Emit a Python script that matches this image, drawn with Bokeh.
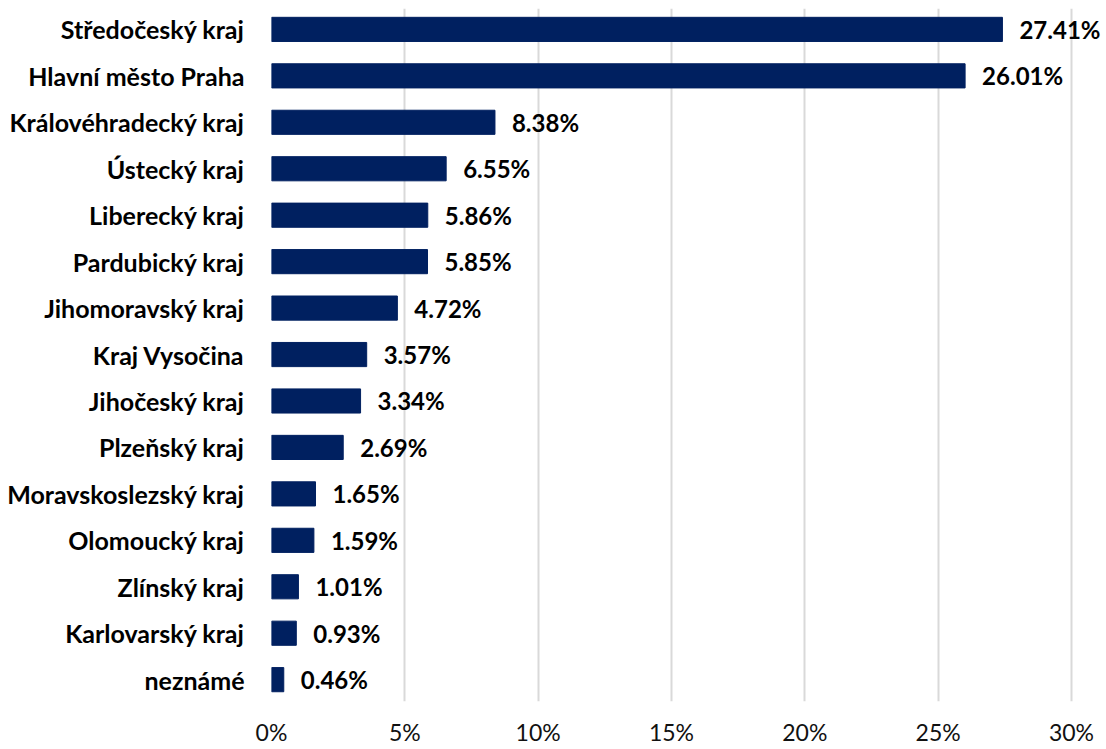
from bokeh.plotting import figure
from bokeh.models import Range1d, FixedTicker, ColumnDataSource, LabelSet
from bokeh.core.properties import value
from bokeh.embed import file_html
from bokeh.resources import INLINE

regions = ["Středočeský kraj", "Hlavní město Praha", "Královéhradecký kraj", "Ústecký kraj",
           "Liberecký kraj", "Pardubický kraj", "Jihomoravský kraj", "Kraj Vysočina",
           "Jihočeský kraj", "Plzeňský kraj", "Moravskoslezský kraj", "Olomoucký kraj",
           "Zlínský kraj", "Karlovarský kraj", "neznámé"]
shares = [27.41, 26.01, 8.38, 6.55, 5.86, 5.85, 4.72, 3.57, 3.34, 2.69, 1.65, 1.59, 1.01, 0.93, 0.46]
x_ticks = [0, 5, 10, 15, 20, 25, 30]
x_tick_labels = ["0%", "5%", "10%", "15%", "20%", "25%", "30%"]

pos = list(range(len(regions)))
labels = ["%.2f%%" % v for v in shares]
src = ColumnDataSource(dict(y=pos, x=shares, lab=labels))

FONT = "Lato"

p = figure(width=1104, height=748, output_backend="svg", toolbar_location=None,
           x_range=Range1d(0, 31.2), y_range=Range1d(14.47, -0.45),
           min_border_left=271, min_border_right=1, min_border_top=8, min_border_bottom=46)
p.outline_line_color = None
p.background_fill_color = "white"
p.border_fill_color = "white"

p.hbar(y="y", right="x", left=0, height=0.52, source=src, color="#002060")

lbl = LabelSet(x="x", y="y", text="lab", source=src, x_offset=17, y_offset=0,
               text_font=value(FONT), text_font_style="bold", text_font_size="24px",
               text_baseline="middle", text_color="black")
p.add_layout(lbl)

p.xgrid.grid_line_color = "#d9d9d9"
p.xgrid.grid_line_width = 2
p.ygrid.grid_line_color = None
p.xaxis.ticker = FixedTicker(ticks=x_ticks)
p.xaxis.major_label_overrides = {t: l for t, l in zip(x_ticks, x_tick_labels)}
p.xaxis.axis_line_color = None
p.xaxis.major_tick_line_color = None
p.xaxis.minor_tick_line_color = None
p.xaxis.major_label_text_font = FONT
p.xaxis.major_label_text_font_size = "23px"
p.xaxis.major_label_text_color = "#111111"
p.xaxis.major_label_standoff = 10

p.yaxis.ticker = FixedTicker(ticks=pos)
p.yaxis.major_label_overrides = {i: r for i, r in zip(pos, regions)}
p.yaxis.axis_line_color = None
p.yaxis.major_tick_line_color = None
p.yaxis.minor_tick_line_color = None
p.yaxis.major_label_text_font = FONT
p.yaxis.major_label_text_font_style = "bold"
p.yaxis.major_label_text_font_size = "25px"
p.yaxis.major_label_text_color = "black"
p.yaxis.major_label_standoff = 21

open("out.html", "w").write(file_html(p, INLINE))
